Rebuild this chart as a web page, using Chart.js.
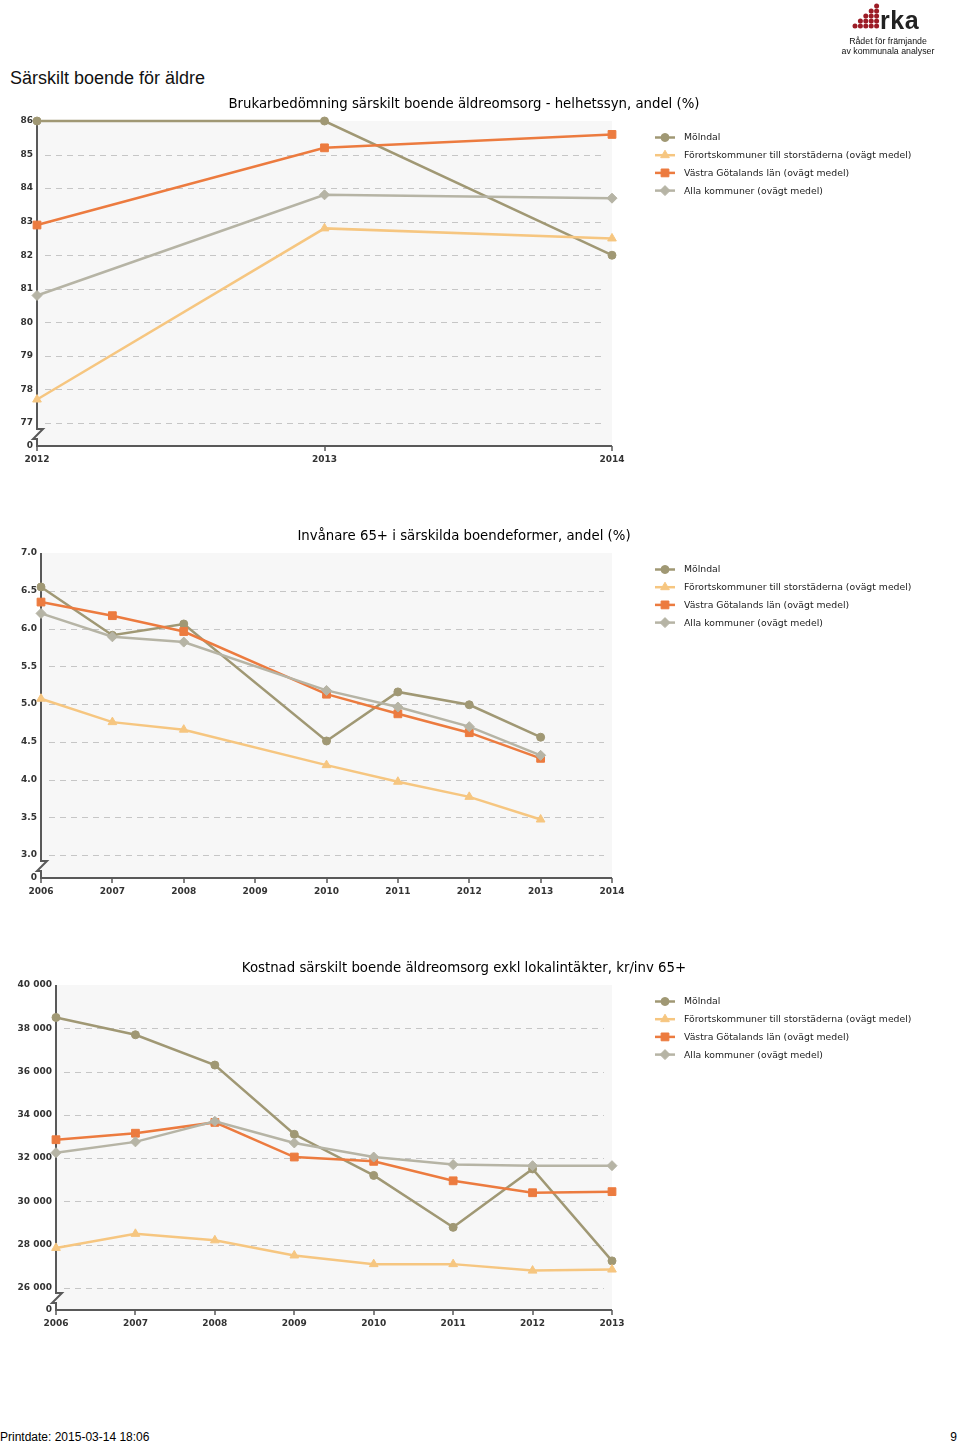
<!DOCTYPE html>
<html>
<head>
<meta charset="utf-8">
<title>Särskilt boende för äldre</title>
<script src="https://cdn.jsdelivr.net/npm/chart.js@4.4.1/dist/chart.umd.min.js"></script>
<style>
  body { margin: 0; background: #fff; width: 960px; height: 1442px; position: relative; overflow: hidden;
         font-family: "Liberation Sans", Arial, sans-serif; }
  .chartbox { position: absolute; left: 0; width: 960px; height: 400px; }
  #heading { position: absolute; left: 10px; top: 68px; font-size: 18px; color: #111; }
  #printdate { position: absolute; left: 0; top: 1430px; font-family: "Liberation Sans Narrow", "Liberation Sans", sans-serif; font-size: 12px; color: #000; }
  #pageno { position: absolute; right: 3px; top: 1430px; font-family: "Liberation Sans Narrow", "Liberation Sans", sans-serif; font-size: 12px; }
  #logo { position: absolute; left: 840px; top: 0; width: 100px; height: 60px; }
  #logo .rka { position: absolute; left: 40px; top: 6px; font-weight: bold; font-size: 25px; color: #222; letter-spacing: 0.5px; }
  #logo .sub { position: absolute; left: 0; width: 96px; text-align: center; font-size: 8.8px; color: #111; line-height: 10px; }
</style>
</head>
<body>
<div id="logo">
  <canvas id="dots" width="45" height="32" style="position:absolute;left:10px;top:0"></canvas>
  <div class="rka">rka</div>
  <div class="sub" style="top:36px">Rådet för främjande</div>
  <div class="sub" style="top:46px">av kommunala analyser</div>
</div>
<div id="heading">Särskilt boende för äldre</div>

<div class="chartbox" style="top:85px"><canvas id="chart1" width="960" height="400"></canvas></div>
<div class="chartbox" style="top:517px"><canvas id="chart2" width="960" height="400"></canvas></div>
<div class="chartbox" style="top:949px"><canvas id="chart3" width="960" height="400"></canvas></div>

<div id="printdate">Printdate: 2015-03-14 18:06</div>
<div id="pageno">9</div>

<script>
// series shared by all three charts
var seriesNames = ['Mölndal', 'Förortskommuner till storstäderna (ovägt medel)', 'Västra Götalands län (ovägt medel)', 'Alla kommuner (ovägt medel)'];
var seriesColors = ['#a09874', '#f6c680', '#ec7b3f', '#b6b4a5'];
var seriesStyles = ['circle', 'triangle', 'rect', 'rectRot'];
var seriesRadius = [4, 5, 5.5, 5];

// Brukarbedömning särskilt boende äldreomsorg - helhetssyn, andel (%)
var title1 = 'Brukarbedömning särskilt boende äldreomsorg - helhetssyn, andel (%)';
var years1 = ['2012', '2013', '2014'];
var molndal1 = [86, 86, 82.0];
var fororts1 = [77.7, 82.8, 82.5];
var vgl1 = [82.9, 85.2, 85.6];
var alla1 = [80.8, 83.8, 83.7];
var yTicks1 = [77, 78, 79, 80, 81, 82, 83, 84, 85, 86];

// Invånare 65+ i särskilda boendeformer, andel (%)
var title2 = 'Invånare 65+ i särskilda boendeformer, andel (%)';
var years2 = ['2006', '2007', '2008', '2009', '2010', '2011', '2012', '2013', '2014'];
var molndal2 = [6.55, 5.91, 6.06, null, 4.51, 5.16, 4.99, 4.56, null];
var fororts2 = [5.07, 4.76, 4.66, null, 4.19, 3.97, 3.77, 3.47, null];
var vgl2 = [6.35, 6.17, 5.96, null, 5.13, 4.87, 4.62, 4.28, null];
var alla2 = [6.2, 5.89, 5.82, null, 5.18, 4.96, 4.7, 4.32, null];
var yTicks2 = [3.0, 3.5, 4.0, 4.5, 5.0, 5.5, 6.0, 6.5, 7.0];

// Kostnad särskilt boende äldreomsorg exkl lokalintäkter, kr/inv 65+
var title3 = 'Kostnad särskilt boende äldreomsorg exkl lokalintäkter, kr/inv 65+';
var years3 = ['2006', '2007', '2008', '2009', '2010', '2011', '2012', '2013'];
var molndal3 = [38500, 37700, 36300, 33100, 31200, 28800, 31500, 27250];
var fororts3 = [27850, 28500, 28200, 27500, 27100, 27100, 26800, 26850];
var vgl3 = [32850, 33150, 33650, 32050, 31850, 30950, 30400, 30450];
var alla3 = [32250, 32750, 33700, 32700, 32050, 31700, 31650, 31650];
var yTicks3 = [26000, 28000, 30000, 32000, 34000, 36000, 38000, 40000];

var tickFont = { family: 'DejaVu Sans', size: 9, weight: 'bold' };

function drawMarker(ctx, style, r, x, y, color) {
  ctx.fillStyle = color;
  ctx.strokeStyle = color;
  ctx.lineWidth = 1;
  Chart.helpers.drawPoint(ctx, { pointStyle: style, radius: r, borderWidth: 1 }, x, y);
}

var framePlugin = {
  id: 'frame',
  beforeDraw: function (chart) {
    var a = chart.chartArea, ctx = chart.ctx, y = chart.scales.y;
    ctx.save();
    ctx.fillStyle = '#f7f7f7';
    ctx.fillRect(a.left, a.top, a.right - a.left, a.bottom - a.top);
    ctx.strokeStyle = '#c6c6c6';
    ctx.lineWidth = 1;
    ctx.setLineDash([6, 5]);
    y.ticks.forEach(function (t, i) {
      if (i === 0 || i === y.ticks.length - 1) return;
      var py = Math.round(y.getPixelForValue(t.value)) + 0.5;
      ctx.beginPath();
      ctx.moveTo(a.left + 8, py);
      ctx.lineTo(a.right - 8, py);
      ctx.stroke();
    });
    ctx.restore();
  },
  beforeDatasetsDraw: function (chart) {
    var a = chart.chartArea, ctx = chart.ctx, x = chart.scales.x;
    ctx.save();
    ctx.strokeStyle = '#595959';
    ctx.lineWidth = 2;
    // y axis with a break near the bottom
    var ax = a.left, b = a.bottom;
    ctx.beginPath();
    ctx.moveTo(ax, a.top);
    ctx.lineTo(ax, b - 17);
    ctx.lineTo(ax + 6, b - 17);
    ctx.lineTo(ax - 4, b - 7);
    ctx.lineTo(ax, b - 7);
    ctx.lineTo(ax, b);
    ctx.stroke();
    // x axis
    ctx.beginPath();
    ctx.moveTo(ax - 1, b);
    ctx.lineTo(a.right, b);
    ctx.stroke();
    ctx.lineWidth = 1.5;
    x.ticks.forEach(function (t, i) {
      var px = Math.round(x.getPixelForTick(i));
      ctx.beginPath();
      ctx.moveTo(px, b);
      ctx.lineTo(px, b + 5);
      ctx.stroke();
    });
    ctx.restore();
  },
  afterDraw: function (chart) {
    var a = chart.chartArea, ctx = chart.ctx;
    ctx.save();
    ctx.fillStyle = '#000';
    ctx.font = '13.3px "DejaVu Sans"';
    ctx.textAlign = 'center';
    ctx.textBaseline = 'middle';
    ctx.fillText(chart.options.plugins.frame.title, 464, a.top - 16);
    // legend
    ctx.font = '9.3px "DejaVu Sans"';
    ctx.textAlign = 'left';
    chart.data.datasets.forEach(function (ds, i) {
      var ly = a.top + 16.5 + i * 17.7;
      var lx = a.right + 43;
      ctx.strokeStyle = ds.borderColor;
      ctx.lineWidth = 2.5;
      ctx.beginPath();
      ctx.moveTo(lx, ly);
      ctx.lineTo(lx + 20, ly);
      ctx.stroke();
      drawMarker(ctx, ds.pointStyle, ds.pointRadius, lx + 10, ly, ds.borderColor);
      ctx.fillStyle = '#222';
      ctx.fillText(ds.label, lx + 29, ly + 0.5);
    });
    ctx.restore();
  }
};

function makeChart(id, title, labels, lists, yTicks, yMin, leftWidth, fmt) {
  var datasets = lists.map(function (vals, i) {
    return {
      label: seriesNames[i],
      data: vals,
      borderColor: seriesColors[i],
      backgroundColor: seriesColors[i],
      borderWidth: 2.5,
      pointStyle: seriesStyles[i],
      pointRadius: seriesRadius[i],
      pointBorderWidth: 1,
      pointBorderColor: seriesColors[i],
      pointBackgroundColor: seriesColors[i],
      spanGaps: true,
      tension: 0,
      clip: false,
      order: 3 - i
    };
  });
  return new Chart(document.getElementById(id), {
    type: 'line',
    data: { labels: labels, datasets: datasets },
    plugins: [framePlugin],
    options: {
      responsive: false,
      animation: false,
      layout: { padding: { top: 36, left: 0, right: 348, bottom: 14 } },
      plugins: {
        legend: { display: false },
        tooltip: { enabled: false },
        title: { display: false },
        frame: { title: title }
      },
      scales: {
        x: {
          type: 'category',
          offset: false,
          grid: { display: false, drawTicks: false },
          border: { display: false },
          ticks: { font: tickFont, color: '#333', padding: 8, maxRotation: 0, autoSkip: false },
          afterFit: function (s) { s.height = 25; }
        },
        y: {
          min: yMin,
          max: yTicks[yTicks.length - 1],
          grid: { display: false, drawTicks: false },
          border: { display: false },
          afterBuildTicks: function (s) {
            s.ticks = [yMin].concat(yTicks).map(function (v) { return { value: v }; });
          },
          ticks: {
            font: tickFont,
            color: '#333',
            padding: 4,
            autoSkip: false,
            callback: function (v) { return v === yMin ? '0' : fmt(v); }
          },
          afterFit: function (s) { s.width = leftWidth; }
        }
      }
    }
  });
}

function plain(v) { return String(v); }
function oneDecimal(v) { return v.toFixed(1); }
function spaced(v) { return String(v).replace(/\B(?=(\d{3})+(?!\d))/g, ' '); }

makeChart('chart1', title1, years1, [molndal1, fororts1, vgl1, alla1], yTicks1, 77 - 23 / 33.56, 37, plain);
makeChart('chart2', title2, years2, [molndal2, fororts2, vgl2, alla2], yTicks2, 3.0 - 23 / 75.5, 41, oneDecimal);
makeChart('chart3', title3, years3, [molndal3, fororts3, vgl3, alla3], yTicks3, 26000 - 22 / 43.14 * 2000, 56, spaced);

// logo dots
var dctx = document.getElementById('dots').getContext('2d');
dctx.fillStyle = '#9c1c26';
for (var c = 0; c < 5; c++) {
  for (var r = 0; r <= c; r++) {
    dctx.beginPath();
    dctx.arc(5 + c * 5.4, 26 - r * 5, 2.5, 0, Math.PI * 2);
    dctx.fill();
  }
}
</script>
</body>
</html>
